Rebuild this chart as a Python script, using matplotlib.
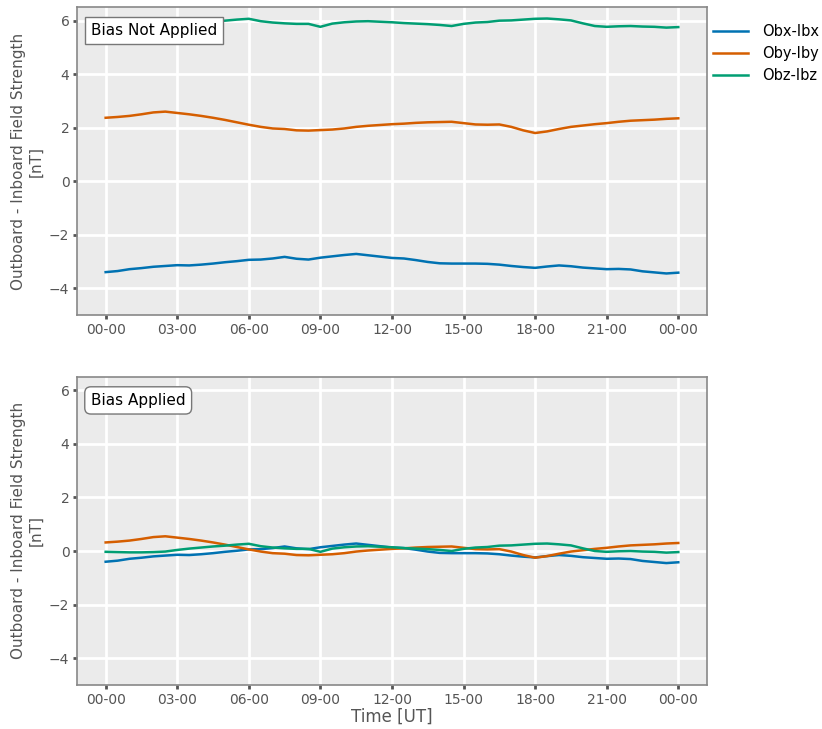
import numpy as np
import matplotlib
matplotlib.use("Agg")
import matplotlib.pyplot as plt
import matplotlib.dates as mdates

# 時刻 [h] (30分ごと)
hours = np.arange(0, 24.5, 0.5)

# バイアス未補正の差分 [nT]
obx_ibx = [-3.40, -3.36, -3.29, -3.25, -3.20, -3.17, -3.14, -3.15, -3.12, -3.08,
           -3.03, -2.99, -2.94, -2.93, -2.89, -2.83, -2.90, -2.93, -2.86, -2.81,
           -2.76, -2.72, -2.77, -2.82, -2.87, -2.89, -2.95, -3.02, -3.07, -3.08,
           -3.08, -3.08, -3.09, -3.12, -3.17, -3.21, -3.24, -3.19, -3.15, -3.18,
           -3.23, -3.26, -3.29, -3.28, -3.30, -3.37, -3.41, -3.45, -3.42]
oby_iby = [2.37, 2.40, 2.44, 2.50, 2.57, 2.60, 2.55, 2.50, 2.44, 2.37,
           2.29, 2.20, 2.11, 2.03, 1.97, 1.95, 1.90, 1.89, 1.91, 1.93,
           1.97, 2.03, 2.07, 2.10, 2.13, 2.15, 2.18, 2.20, 2.21, 2.22,
           2.17, 2.12, 2.11, 2.12, 2.03, 1.90, 1.80, 1.86, 1.95, 2.03,
           2.08, 2.13, 2.17, 2.22, 2.26, 2.28, 2.30, 2.33, 2.35]
obz_ibz = [5.77, 5.76, 5.75, 5.75, 5.76, 5.78, 5.84, 5.89, 5.93, 5.97,
           6.00, 6.04, 6.07, 5.98, 5.93, 5.90, 5.88, 5.88, 5.77, 5.89,
           5.94, 5.97, 5.98, 5.96, 5.94, 5.91, 5.89, 5.87, 5.84, 5.80,
           5.88, 5.93, 5.95, 6.00, 6.01, 6.04, 6.07, 6.08, 6.05, 6.01,
           5.90, 5.80, 5.77, 5.79, 5.80, 5.78, 5.77, 5.74, 5.76]

# 各成分のバイアス [nT]
bias = {"x": -3.0, "y": 2.05, "z": 5.8}

labels = ["Obx-Ibx", "Oby-Iby", "Obz-Ibz"]
colors = ["#0072B2", "#D55E00", "#009E73"]

t0 = np.datetime64("2020-01-01T00:00")
times = t0 + (np.array(hours) * 60).astype("timedelta64[m]")

raw = [np.array(obx_ibx), np.array(oby_iby), np.array(obz_ibz)]
corrected = [raw[0] - bias["x"], raw[1] - bias["y"], raw[2] - bias["z"]]

fig = plt.figure(figsize=(8.22, 7.29), dpi=100)
ax1 = fig.add_axes([0.0937, 0.568, 0.7663, 0.422])
ax2 = fig.add_axes([0.0937, 0.0604, 0.7663, 0.4226])

gray = "#555555"


def style_axes(ax):
    ax.set_facecolor("#EBEBEB")
    ax.grid(True, color="white", linewidth=2)
    ax.set_axisbelow(True)
    for s in ax.spines.values():
        s.set_color("#888888")
        s.set_linewidth(1.2)
    ax.tick_params(colors="#555555", labelcolor=gray, labelsize=10,
                   direction="out", length=3, width=2, pad=2.5)
    ax.set_ylim(-5, 6.5)
    ax.set_yticks([-4, -2, 0, 2, 4, 6])
    ax.xaxis.set_major_locator(mdates.HourLocator(byhour=range(0, 24, 3)))
    ax.xaxis.set_major_formatter(mdates.DateFormatter("%H-%M"))
    ax.set_ylabel("Outboard - Inboard Field Strength\n[nT]", color=gray, fontsize=11)


for ax, data, title, box in [(ax1, raw, "Bias Not Applied", "square"),
                             (ax2, corrected, "Bias Applied", "round")]:
    style_axes(ax)
    for d, lab, c in zip(data, labels, colors):
        ax.plot(times, d, color=c, linewidth=1.8, label=lab)
    ax.text(0.022, 0.948, title, transform=ax.transAxes, fontsize=11,
            va="top", ha="left", zorder=5,
            bbox=dict(boxstyle=box + ",pad=0.4", facecolor="white",
                      edgecolor="#777777"))

ax2.set_xlabel("Time [UT]", color=gray, fontsize=12, labelpad=1)

ax1.legend(loc="upper left", bbox_to_anchor=(1.0, 0.965), borderaxespad=0,
           frameon=False, fontsize=10.5, handlelength=2.4, handletextpad=1.0)

fig.savefig("out.png", dpi=100)
